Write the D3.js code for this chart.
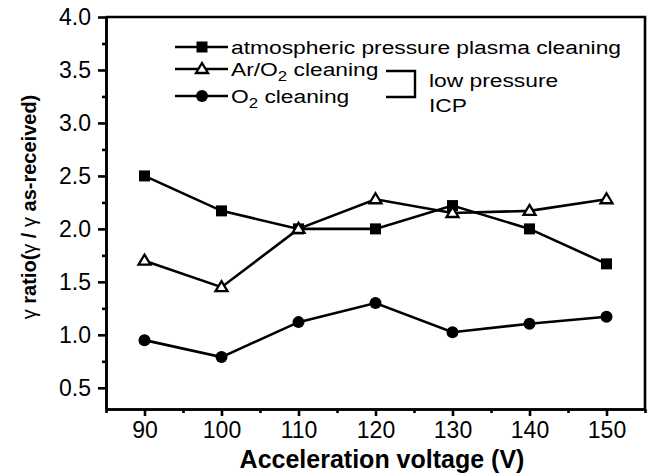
<!DOCTYPE html>
<html>
<head>
<meta charset="utf-8">
<script src="https://cdn.jsdelivr.net/npm/d3@7"></script>
<style>
  body { margin: 0; background: #fff; }
  svg { display: block; font-family: "Liberation Sans", Arial, Helvetica, sans-serif; }
</style>
</head>
<body>
<svg id="chart" width="648" height="476"></svg>
<script>
// data
const voltages = [90, 100, 110, 120, 130, 140, 150];
const atmPlasma = [2.50, 2.17, 2.00, 2.00, 2.22, 2.00, 1.67];
const arO2 = [1.70, 1.45, 2.00, 2.28, 2.15, 2.17, 2.28];
const o2 = [0.95, 0.79, 1.12, 1.30, 1.025, 1.105, 1.17];

const xMajor = [90, 100, 110, 120, 130, 140, 150];
const xMinor = [85, 95, 105, 115, 125, 135, 145, 155];
const yMajor = [0.5, 1.0, 1.5, 2.0, 2.5, 3.0, 3.5, 4.0];
const yMinor = [0.75, 1.25, 1.75, 2.25, 2.75, 3.25, 3.75];

const series = [
  { name: 'atm', values: atmPlasma, marker: 'square' },
  { name: 'arO2', values: arO2, marker: 'triangle' },
  { name: 'o2', values: o2, marker: 'circle' }
];

const plotLeft = 106, plotRight = 645, plotTop = 17, plotBottom = 409;

const svg = d3.select('#chart');

const x = d3.scaleLinear().domain([85, 155]).range([plotLeft, plotRight]);
const y = d3.scaleLinear().domain([0.3, 4.0]).range([plotBottom, plotTop]);

// axes
const xAxis = svg.append('g')
  .attr('transform', 'translate(0,' + plotBottom + ')')
  .call(d3.axisBottom(x).tickValues(xMajor).tickSize(7).tickPadding(6).tickSizeOuter(0).tickFormat(d3.format('d')));
const xAxisMinor = svg.append('g')
  .attr('transform', 'translate(0,' + plotBottom + ')')
  .call(d3.axisBottom(x).tickValues(xMinor).tickSize(4).tickSizeOuter(0).tickFormat(''));

const yAxis = svg.append('g')
  .attr('transform', 'translate(' + plotLeft + ',0)')
  .call(d3.axisLeft(y).tickValues(yMajor).tickSize(8).tickPadding(7).tickSizeOuter(0).tickFormat(d3.format('.1f')));
const yAxisMinor = svg.append('g')
  .attr('transform', 'translate(' + plotLeft + ',0)')
  .call(d3.axisLeft(y).tickValues(yMinor).tickSize(4).tickSizeOuter(0).tickFormat(''));

[xAxis, xAxisMinor, yAxis, yAxisMinor].forEach(g => {
  g.selectAll('path, line').attr('stroke', '#000').attr('stroke-width', 2.6);
  g.selectAll('text').attr('fill', '#000').style('font-size', '23px').style('font-family', '"Liberation Sans", Arial, sans-serif');
});

// top and right frame lines
svg.append('path')
  .attr('d', 'M' + plotLeft + ',' + y(4.0) + 'H' + plotRight + 'V' + plotBottom)
  .attr('fill', 'none')
  .attr('stroke', '#000')
  .attr('stroke-width', 2.6);

// lines
const line = d3.line()
  .x((d, i) => x(voltages[i]))
  .y(d => y(d));

const plot = svg.append('g');

series.forEach(s => {
  plot.append('path')
    .datum(s.values)
    .attr('d', line)
    .attr('fill', 'none')
    .attr('stroke', '#000')
    .attr('stroke-width', 2.6);
});

const drawMarker = (g, kind, cx, cy) => {
  if (kind === 'square') {
    g.append('rect')
      .attr('x', cx - 5.5).attr('y', cy - 5.5)
      .attr('width', 11).attr('height', 11)
      .attr('fill', '#000');
  } else if (kind === 'circle') {
    g.append('circle')
      .attr('cx', cx).attr('cy', cy).attr('r', 6)
      .attr('fill', '#000');
  } else {
    const h = 10, w = 12;
    g.append('path')
      .attr('d', 'M' + cx + ',' + (cy - h * 0.6) + 'L' + (cx + w / 2) + ',' + (cy + h * 0.4) + 'L' + (cx - w / 2) + ',' + (cy + h * 0.4) + 'Z')
      .attr('fill', '#fff')
      .attr('stroke', '#000')
      .attr('stroke-width', 2.3)
      .attr('stroke-linejoin', 'miter');
  }
};

series.forEach(s => {
  s.values.forEach((v, i) => drawMarker(plot, s.marker, x(voltages[i]), y(v)));
});

// legend (the source type is a little wide, hence the x-stretch)
const legend = svg.append('g').style('font-size', '19px');
const stretch = 1.2;
const legendRows = [
  { marker: 'square', y: 47, parts: [['atmospheric pressure plasma cleaning', false]] },
  { marker: 'triangle', y: 69, parts: [['Ar/O', false], ['2', true], [' cleaning', false]] },
  { marker: 'circle', y: 96, parts: [['O', false], ['2', true], [' cleaning', false]] }
];

const stretchedText = (tx, ty) => legend.append('text')
  .attr('transform', 'translate(' + tx + ',' + ty + ') scale(' + stretch + ',1)')
  .attr('fill', '#000');

legendRows.forEach(r => {
  legend.append('line')
    .attr('x1', 175).attr('x2', 228)
    .attr('y1', r.y).attr('y2', r.y)
    .attr('stroke', '#000').attr('stroke-width', 2.5);
  drawMarker(legend, r.marker, 202, r.y);
  const t = stretchedText(231, r.y + 7);
  r.parts.forEach(p => {
    if (p[1]) {
      t.append('tspan').attr('dy', 5).style('font-size', '14px').text(p[0]);
    } else {
      const ts = t.append('tspan').text(p[0]);
      if (t.selectAll('tspan').size() > 1) ts.attr('dy', -5);
    }
  });
});

// bracket for low pressure ICP
legend.append('path')
  .attr('d', 'M386,71H415V97H386')
  .attr('fill', 'none')
  .attr('stroke', '#000')
  .attr('stroke-width', 2.4);
stretchedText(429, 87).text('low pressure');
stretchedText(429, 112).text('ICP');

// axis titles
svg.append('text')
  .attr('x', 382).attr('y', 468)
  .attr('text-anchor', 'middle')
  .style('font-size', '25px')
  .style('font-weight', 'bold')
  .text('Acceleration voltage (V)');

const yTitle = svg.append('text')
  .attr('transform', 'translate(36,207) rotate(-90)')
  .attr('text-anchor', 'middle')
  .style('font-size', '20px')
  .style('font-weight', 'bold');
yTitle.append('tspan').style('font-weight', 'normal').text('γ');
yTitle.append('tspan').text(' ratio(');
yTitle.append('tspan').style('font-weight', 'normal').text('γ');
yTitle.append('tspan').text(' / ');
yTitle.append('tspan').style('font-weight', 'normal').text('γ');
yTitle.append('tspan').text(' as-received)');
</script>
</body>
</html>
